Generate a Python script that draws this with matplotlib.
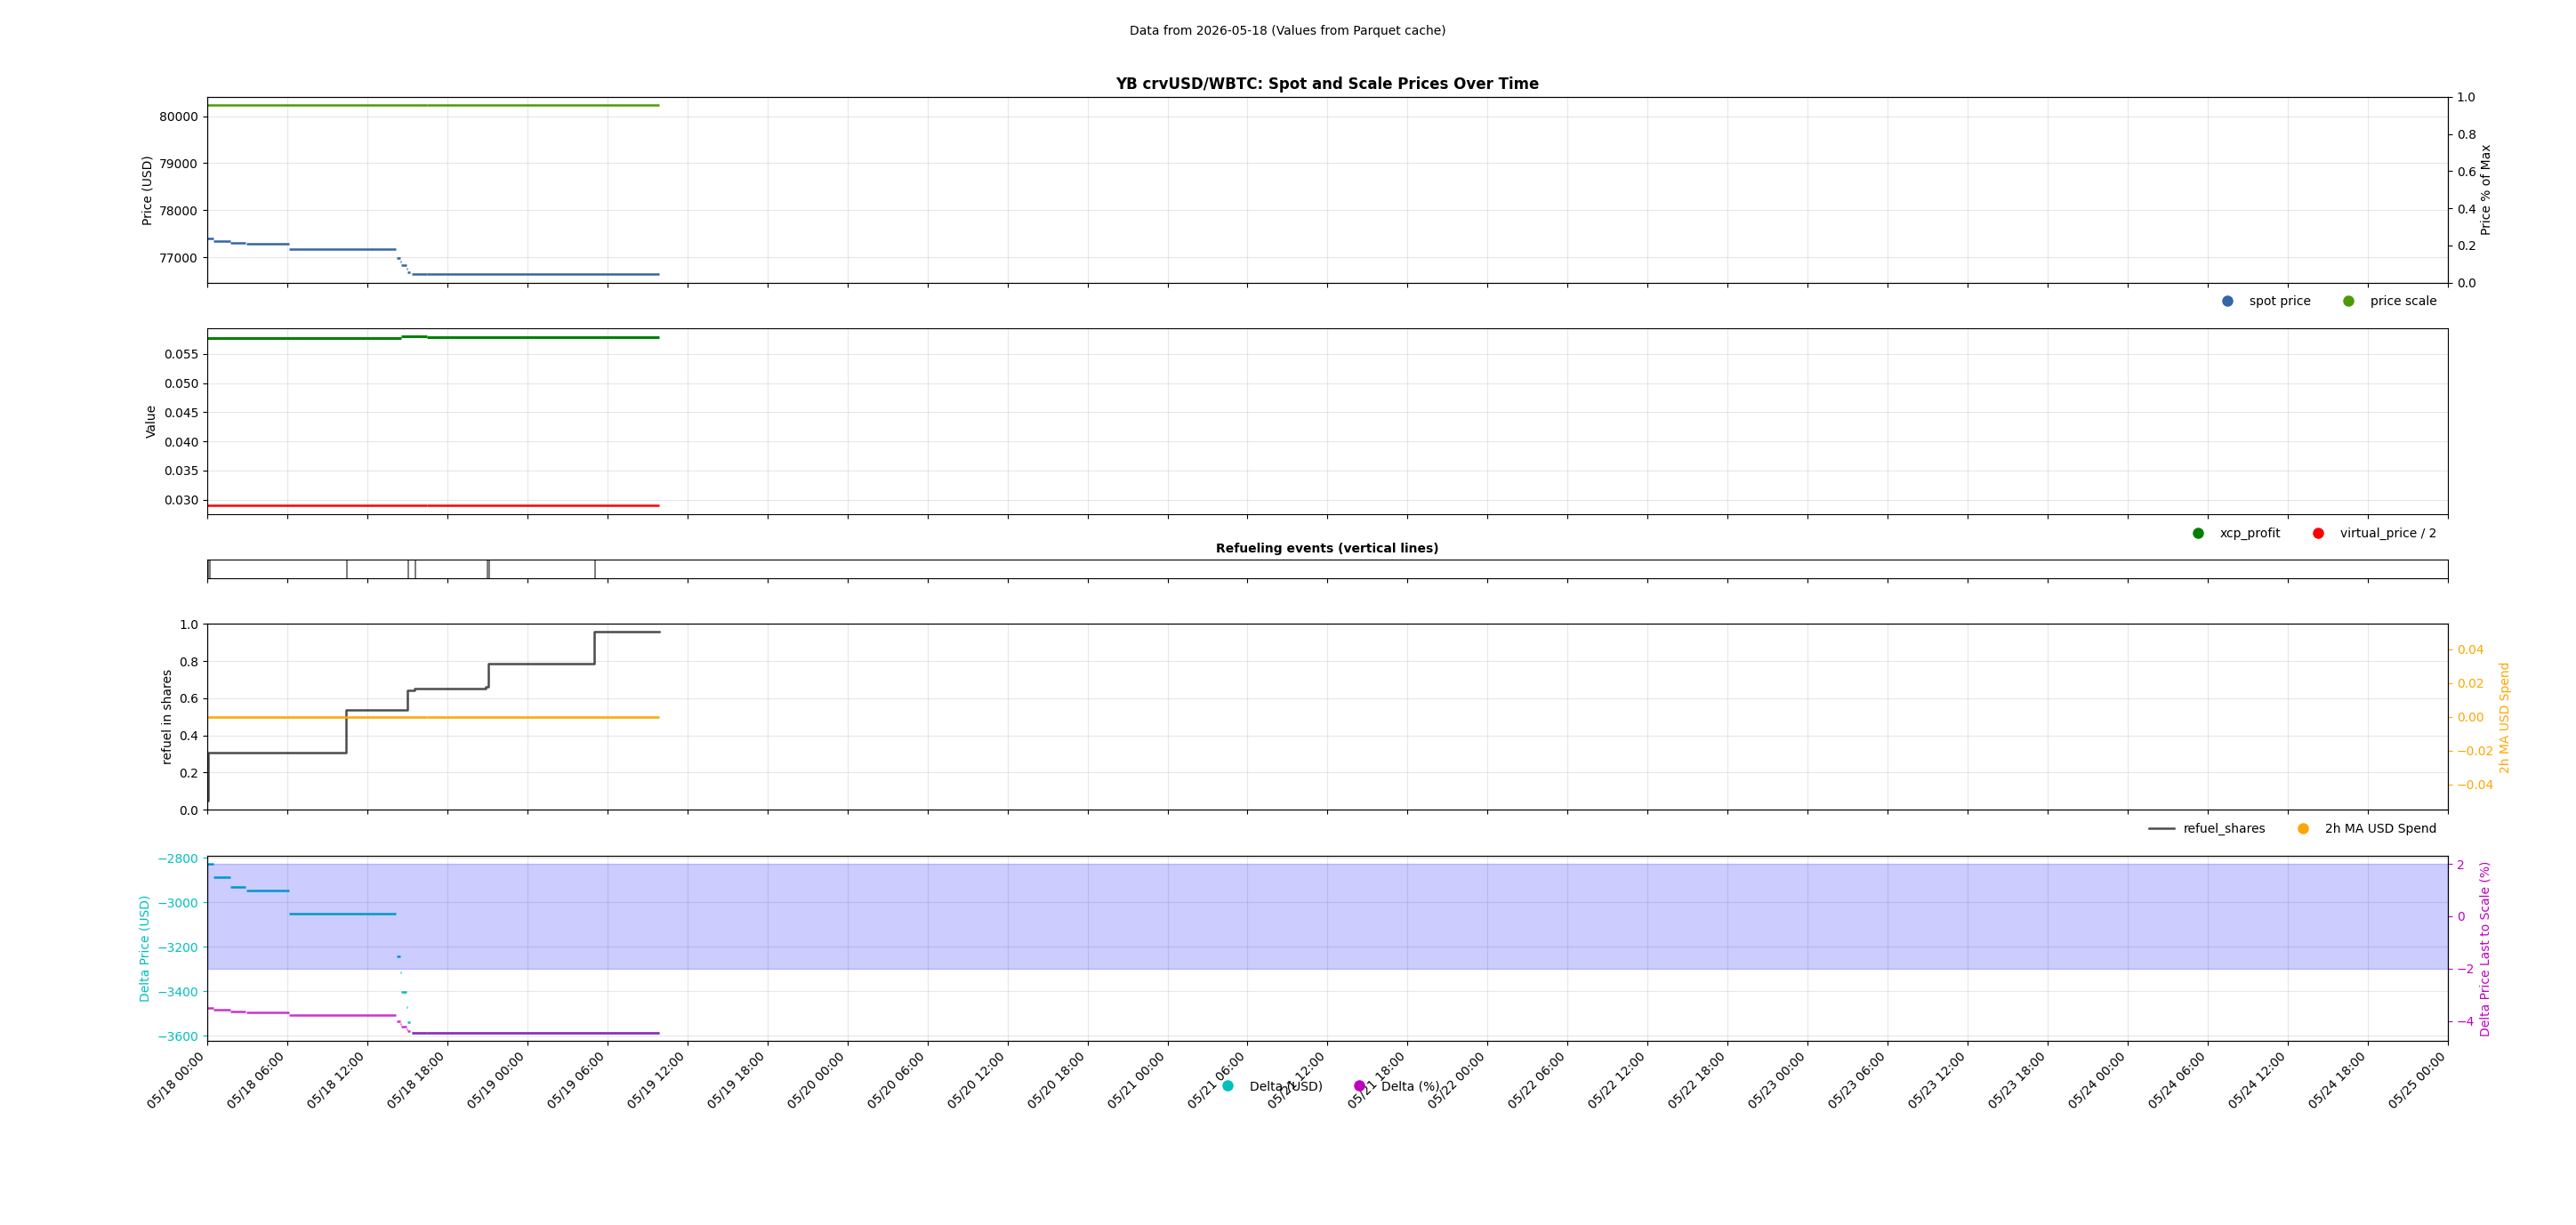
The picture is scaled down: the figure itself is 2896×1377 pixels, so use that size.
import numpy as np
import matplotlib
matplotlib.use("Agg")
import matplotlib.pyplot as plt
import matplotlib.dates as mdates
from matplotlib.lines import Line2D

# hours since 2026-05-18 00:00
BASE = np.datetime64("2026-05-18T00:00")

# spot price / delta series share the same steps
seg_start = [0.00, 0.50, 1.75, 2.92, 6.15, 14.20, 14.49, 14.58, 14.96, 15.03, 15.26, 15.32, 15.38, 16.49]
seg_end = [0.48, 1.73, 2.90, 6.13, 14.18, 14.46, 14.54, 14.95, 15.00, 15.20, 15.30, 15.35, 16.45, 33.90]
spot_price = [77399, 77342, 77304, 77285, 77171, 76987, 76911, 76829, 76759, 76677, 76660, 76650, 76639, 76639]
delta_usd = [-2827, -2887, -2932, -2948, -3052, -3242, -3314, -3405, -3471, -3538, -3564, -3579, -3587, -3587]
delta_pct = [-3.50, -3.58, -3.63, -3.66, -3.78, -4.01, -4.10, -4.22, -4.30, -4.38, -4.41, -4.43, -4.45, -4.45]

# flat series (two pieces, small data gap near 16.47h)
flat_start = [0.00, 16.49]
flat_end = [16.45, 33.90]
price_scale = [80234, 80234]
virtual_half = [0.02898, 0.02898]
usd_spend_ma = [0.0, 0.0]

xcp_start = [0.00, 14.54, 16.49]
xcp_end = [14.52, 16.45, 33.90]
xcp_profit = [0.05776, 0.05796, 0.05791]

refuel_t = [0.02, 0.08, 10.42, 15.04, 15.55, 20.90, 21.07, 29.01, 33.90]
refuel_shares = [0.048, 0.308, 0.539, 0.642, 0.653, 0.664, 0.785, 0.960, 0.960]

refuel_events = [0.06, 0.18, 10.51, 15.10, 15.64, 21.01, 21.16, 29.07]

band_lo, band_hi = -2, 2
x_range = [0, 168]


def tn(hours):
    return mdates.date2num(BASE) + np.asarray(hours, dtype=float) / 24.0


c_spot = "#3465a4"
c_scale = "#4e9a06"
lw = 1.8

fig = plt.figure(figsize=(28.96, 13.77), dpi=100)
gs = fig.add_gridspec(5, 1, height_ratios=[1, 1, 0.1, 1, 1], hspace=0.3,
                      left=0.0804, right=0.9503, top=0.921, bottom=0.150)
ax1 = fig.add_subplot(gs[0])
ax2 = fig.add_subplot(gs[1], sharex=ax1)
ax3 = fig.add_subplot(gs[2], sharex=ax1)
ax4 = fig.add_subplot(gs[3], sharex=ax1)
ax5 = fig.add_subplot(gs[4], sharex=ax1)

# --- panel 1: spot and scale prices
ax1.hlines(spot_price, tn(seg_start), tn(seg_end), color=c_spot, lw=lw)
ax1.hlines(price_scale, tn(flat_start), tn(flat_end), color=c_scale, lw=lw)
ax1.set_ylabel("Price (USD)")
ax1.set_title("YB crvUSD/WBTC: Spot and Scale Prices Over Time", fontsize=12, fontweight="bold")
ax1.grid(True, alpha=0.3)
ax1r = ax1.twinx()
ax1r.set_ylim(0, 1)
ax1r.set_ylabel("Price % of Max")
ax1.legend(handles=[Line2D([], [], marker="o", ls="", color=c_spot, ms=8, label="spot price"),
                    Line2D([], [], marker="o", ls="", color=c_scale, ms=8, label="price scale")],
           loc="upper right", bbox_to_anchor=(1, -0.01), ncol=2, frameon=False)

# --- panel 2: xcp_profit and virtual price
ax2.hlines(xcp_profit, tn(xcp_start), tn(xcp_end), color="green", lw=lw + 0.4)
ax2.hlines(virtual_half, tn(flat_start), tn(flat_end), color="red", lw=lw)
ax2.set_ylabel("Value")
ax2.grid(True, alpha=0.3)
ax2.legend(handles=[Line2D([], [], marker="o", ls="", color="green", ms=8, label="xcp_profit"),
                    Line2D([], [], marker="o", ls="", color="red", ms=8, label="virtual_price / 2")],
           loc="upper right", bbox_to_anchor=(1, -0.01), ncol=2, frameon=False)

# --- panel 3: refuel events
for ev in refuel_events:
    ax3.axvline(tn(ev), color="black", alpha=0.6, lw=1.2)
ax3.set_yticks([])
ax3.set_title("Refueling events (vertical lines)", fontsize=10, fontweight="bold")

# --- panel 4: refuel shares + usd spend
ax4.plot(tn(refuel_t), refuel_shares, drawstyle="steps-post", color="black", alpha=0.7, lw=1.8)
ax4.set_ylim(0, 1)
ax4.set_ylabel("refuel in shares")
ax4.grid(True, alpha=0.3)
ax4r = ax4.twinx()
ax4r.hlines(usd_spend_ma, tn(flat_start), tn(flat_end), color="orange", lw=lw)
ax4r.set_ylim(-0.055, 0.055)
ax4r.set_ylabel("2h MA USD Spend", color="orange")
ax4r.tick_params(axis="y", colors="orange")
ax4.legend(handles=[Line2D([], [], color="black", alpha=0.7, lw=1.8, label="refuel_shares"),
                    Line2D([], [], marker="o", ls="", color="orange", ms=8, label="2h MA USD Spend")],
           loc="upper right", bbox_to_anchor=(1, -0.01), ncol=2, frameon=False)

# --- panel 5: delta
ax5.hlines(delta_usd, tn(seg_start), tn(seg_end), color="c", lw=lw)
ax5.set_ylabel("Delta Price (USD)", color="c")
ax5.tick_params(axis="y", colors="c")
ax5.grid(True, alpha=0.3)
ax5r = ax5.twinx()
ax5r.axhspan(band_lo, band_hi, color="blue", alpha=0.2)
ax5r.hlines(delta_pct, tn(seg_start), tn(seg_end), color="m", lw=lw, alpha=0.8)
ax5r.set_ylabel("Delta Price Last to Scale (%)", color="m")
ax5r.tick_params(axis="y", colors="m")
ax5.legend(handles=[Line2D([], [], marker="o", ls="", color="c", ms=8, label="Delta (USD)"),
                    Line2D([], [], marker="o", ls="", color="m", ms=8, label="Delta (%)")],
           loc="upper center", bbox_to_anchor=(0.5, -0.15), ncol=2, frameon=False)

ax1.set_xlim(tn(x_range[0]), tn(x_range[1]))
ax5.xaxis.set_major_locator(mdates.HourLocator(byhour=[0, 6, 12, 18]))
ax5.xaxis.set_major_formatter(mdates.DateFormatter("%m/%d %H:%M"))
for ax in (ax1, ax2, ax3, ax4):
    ax.tick_params(labelbottom=False)
plt.setp(ax5.get_xticklabels(), rotation=45, ha="right")

fig.suptitle("Data from 2026-05-18 (Values from Parquet cache)", fontsize=10)
fig.savefig("out.png", dpi=100)
